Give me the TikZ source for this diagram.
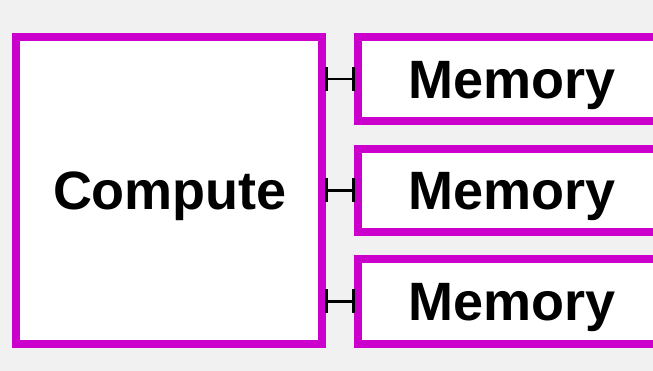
\documentclass[tikz,border=0pt]{standalone}
\usepackage{fontspec}
\setmainfont{Liberation Sans}
\usetikzlibrary{arrows.meta}
\definecolor{bg}{HTML}{F0F1F0}
\definecolor{mag}{HTML}{CC00CC}
\tikzset{
  box/.style={draw=mag, line width=8pt, fill=white, rectangle, inner sep=0pt},
  lbl/.style={anchor=base, inner sep=0pt, font=\bfseries\fontsize{54}{60}\selectfont},
  conn/.style={line width=2.7pt, {Bar[width=24pt]}-{Bar[width=24pt]}, shorten <=-1pt, shorten >=-1pt}
}
\begin{document}
\begin{tikzpicture}[x=1pt,y=1pt]
\fill[bg] (0,0) rectangle (653,371);
\useasboundingbox (0,0) rectangle (653,371);
\clip (0,0) rectangle (653,371);
\node[box, minimum width=306pt, minimum height=307pt] (compute) at (169,180.5) {};
\node[box, minimum width=309.5pt, minimum height=84pt] (m1) at (512.25,292) {};
\node[box, minimum width=309.5pt, minimum height=83pt] (m2) at (512.25,180.5) {};
\node[box, minimum width=309.5pt, minimum height=85pt] (m3) at (512.25,69.5) {};
\node[lbl] (tc) at (170,161) {Compute};
\node[lbl] (t1) at (512.5,272.5) {Memory};
\node[lbl] (t2) at (512.5,161) {Memory};
\node[lbl] (t3) at (512.5,50) {Memory};
\draw[conn] (compute.east |- m1.west) -- (m1.west);
\draw[conn] (compute.east |- m2.west) -- (m2.west);
\draw[conn] (compute.east |- m3.west) -- (m3.west);
\end{tikzpicture}
\end{document}
